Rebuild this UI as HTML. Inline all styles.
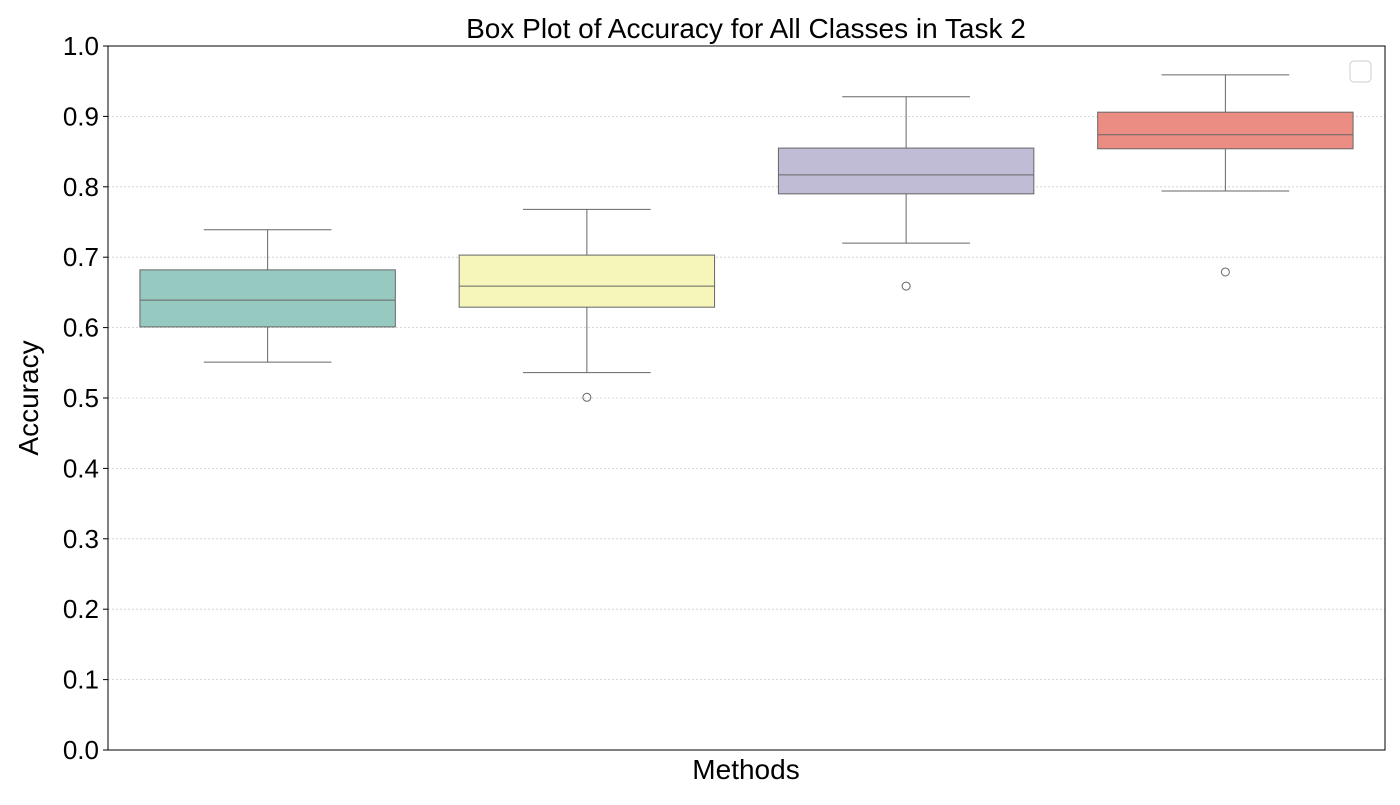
<!DOCTYPE html>
<html><head><meta charset="utf-8"><style>
body{margin:0;background:#fff;}
svg text{font-family:"Liberation Sans","DejaVu Sans",sans-serif;fill:#000;}
</style></head><body>
<svg id="chart" width="1400" height="800" xmlns="http://www.w3.org/2000/svg">
<rect x="0" y="0" width="1400" height="800" fill="#fff"/>
<g id="grid"></g>
<g id="boxes"></g>
<rect x="108" y="46" width="1277" height="704" fill="none" stroke="#000" stroke-width="1"/>
<g id="yaxis"></g>
<text x="746" y="38" font-size="28" text-anchor="middle">Box Plot of Accuracy for All Classes in Task 2</text>
<text x="746" y="779" font-size="28" text-anchor="middle">Methods</text>
<text x="0" y="0" font-size="28" text-anchor="middle" transform="translate(38,398) rotate(-90)">Accuracy</text>
<rect x="1350" y="61" width="21" height="21" rx="4" fill="#fff" stroke="#ccc"/>
</svg>
<script>
const methods=["Method 1","Method 2","Method 3","Method 4"];
const whiskLow=[0.551,0.536,0.720,0.794];
const q1=[0.601,0.629,0.790,0.854];
const median=[0.639,0.659,0.817,0.874];
const q3=[0.682,0.703,0.855,0.906];
const whiskHigh=[0.739,0.768,0.928,0.959];
const outliers=[[],[0.501],[0.659],[0.679]];
const colors=["#96cac1","#f6f6bb","#c0bcd6","#eb8d83"];
const yTicks=[0,0.1,0.2,0.3,0.4,0.5,0.6,0.7,0.8,0.9,1.0];
const NS="http://www.w3.org/2000/svg";
const X0=108,X1=1385,Y0=750,Y1=46;
const y=v=>Y0-(v-0)/(1-0)*(Y0-Y1);
const slot=(X1-X0)/methods.length;
const xc=i=>X0+slot*(i+0.5);
function mk(tag,attrs,parent){const e=document.createElementNS(NS,tag);for(const k in attrs)e.setAttribute(k,attrs[k]);parent.appendChild(e);return e;}
const grid=document.getElementById('grid'),ya=document.getElementById('yaxis'),bx=document.getElementById('boxes');
yTicks.forEach(t=>{
  const g=mk('line',{x1:X0,x2:X1,y1:y(t),y2:y(t),stroke:'#ccc','stroke-width':0.8,'stroke-dasharray':'2,2'},grid);
  
  
  const tk=mk('line',{x1:X0-5,x2:X0,y1:y(t),y2:y(t),stroke:'#000'},ya);
  
  
  const tx=mk('text',{x:X0-9,y:y(t)+9,'font-size':26,'text-anchor':'end'},ya);
  
  
  tx.textContent=t.toFixed(1);
});
methods.forEach((m,i)=>{
  const c=xc(i),bw=slot*0.8,cw=bw/2,st='#666';
  const g=mk('g',{},bx);
  
  
  mk('line',{x1:c,x2:c,y1:y(q3[i]),y2:y(whiskHigh[i]),stroke:st},g);
  mk('line',{x1:c,x2:c,y1:y(q1[i]),y2:y(whiskLow[i]),stroke:st},g);
  mk('line',{x1:c-cw/2,x2:c+cw/2,y1:y(whiskHigh[i]),y2:y(whiskHigh[i]),stroke:st},g);
  mk('line',{x1:c-cw/2,x2:c+cw/2,y1:y(whiskLow[i]),y2:y(whiskLow[i]),stroke:st},g);
  mk('rect',{x:c-bw/2,y:y(q3[i]),width:bw,height:y(q1[i])-y(q3[i]),fill:colors[i],stroke:st},g);
  mk('line',{x1:c-bw/2,x2:c+bw/2,y1:y(median[i]),y2:y(median[i]),stroke:st},g);
  outliers[i].forEach(o=>{
    const p=mk('circle',{cx:c,cy:y(o),r:4,fill:'none',stroke:st},g);
    
    
  });
});
</script>
</body></html>
